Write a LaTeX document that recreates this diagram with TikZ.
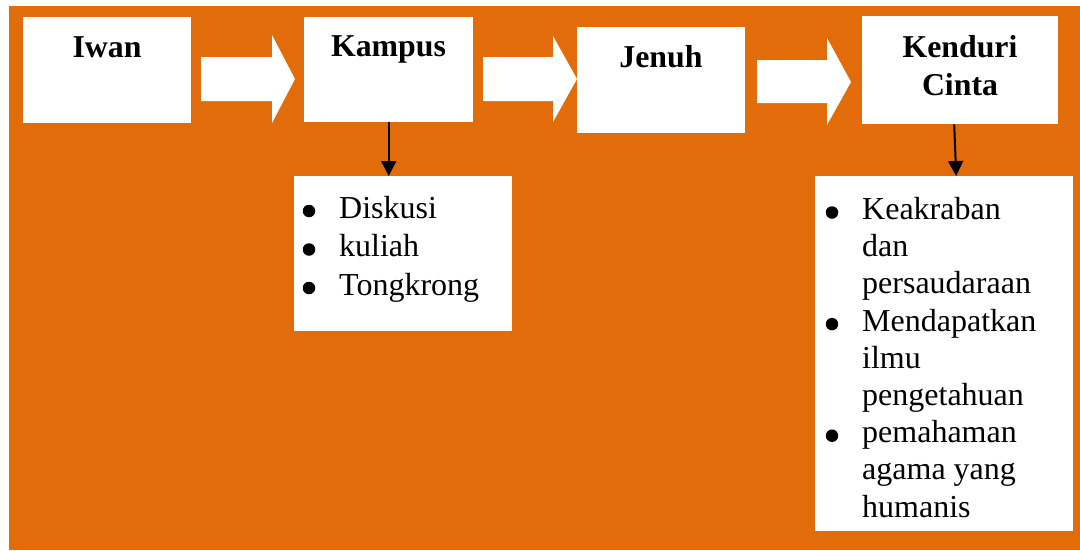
\documentclass[tikz,border=0pt]{standalone}
\usepackage{fontspec}
\setmainfont{Liberation Serif}
\usetikzlibrary{arrows.meta,calc}
\definecolor{bgorange}{HTML}{E36C0A}
\begin{document}
\begin{tikzpicture}[x=1pt,y=-1pt,
  box/.style={fill=white,draw=none,inner sep=0pt,anchor=north west},
  title/.style={anchor=base,inner sep=0pt,font=\fontsize{31.8}{37}\selectfont\bfseries},
  item/.style={anchor=base west,inner sep=0pt,font=\fontsize{32}{37}\selectfont},
  dot/.style={circle,fill=black,draw=none,inner sep=0pt,outer sep=0pt,minimum size=12.5pt},
  blockarrow/.style={fill=white,draw=none},
  conn/.style={line width=2pt,-{Triangle[width=15pt,length=15pt]}}]
\useasboundingbox (0,0) rectangle (1080,550);
\fill[white] (0,0) rectangle (1080,550);
\fill[bgorange] (9,6) rectangle (1080,550);

% main boxes
\node[box,minimum width=168pt,minimum height=106pt] (iwan) at (23,17) {};
\node[box,minimum width=169pt,minimum height=105pt] (kampus) at (304,17) {};
\node[box,minimum width=168pt,minimum height=106pt] (jenuh) at (577,27) {};
\node[box,minimum width=196pt,minimum height=108pt] (kenduri) at (862,16) {};

% detail boxes
\node[box,minimum width=218pt,minimum height=155pt] (list1) at (294,176) {};
\node[box,minimum width=258pt,minimum height=355pt] (list2) at (815,176) {};

% titles
\node[title] (tiwan) at (107,57) {Iwan};
\node[title] (tkampus) at (388.5,56) {Kampus};
\node[title] (tjenuh) at (661,67) {Jenuh};
\node[title] (tkend1) at (960,57) {Kenduri};
\node[title] (tkend2) at (960,95) {Cinta};

% block arrows between the boxes
\fill[blockarrow] (201,57) -- (272,57) -- (272,35) -- (295,79) -- (272,123) -- (272,101) -- (201,101) -- cycle;
\fill[blockarrow] (483,57) -- (553,57) -- (553,36) -- (577,79) -- (553,122) -- (553,101) -- (483,101) -- cycle;
\fill[blockarrow] (757,60) -- (827,60) -- (827,38) -- (851,82) -- (827,125) -- (827,103) -- (757,103) -- cycle;

% connectors to the detail boxes
\draw[conn] (kampus.south) -- (kampus.south |- list1.north);
\draw[conn] ($(kenduri.south)+(-6,0)$) -- ($(kenduri.south |- list2.north)+(-4,0)$);

% left list
\node[dot] (b11) at (309,211) {};
\node[item] (l11) at (339,218) {Diskusi};
\node[dot] (b12) at (309,249.5) {};
\node[item] (l12) at (339,256.5) {kuliah};
\node[dot] (b13) at (309,288) {};
\node[item] (l13) at (339,295) {Tongkrong};

% right list
\node[dot] (b21) at (832,212.5) {};
\node[item] (l21) at (862,219.5) {Keakraban};
\node[item] (l22) at (862,256.7) {dan};
\node[item] (l23) at (862,293.9) {persaudaraan};
\node[dot] (b22) at (832,324.1) {};
\node[item] (l24) at (862,331.1) {Mendapatkan};
\node[item] (l25) at (862,368.3) {ilmu};
\node[item] (l26) at (862,405.5) {pengetahuan};
\node[dot] (b23) at (832,435.7) {};
\node[item] (l27) at (862,442.7) {pemahaman};
\node[item] (l28) at (862,479.9) {agama yang};
\node[item] (l29) at (862,517.1) {humanis};
\end{tikzpicture}
\end{document}
